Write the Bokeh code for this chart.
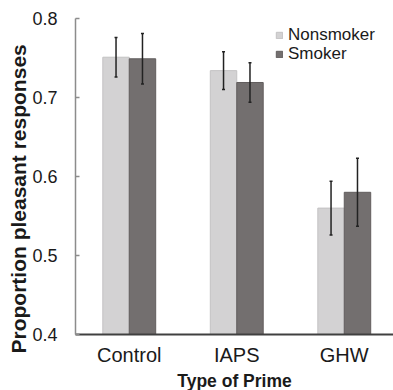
from bokeh.plotting import figure
from bokeh.models import (ColumnDataSource, FixedTicker, Range1d, Whisker, TeeHead,
                          Title, Legend)
from bokeh.transform import dodge
from bokeh.embed import file_html
from bokeh.resources import INLINE

categories = ["Control", "IAPS", "GHW"]
nonsmoker = [0.751, 0.734, 0.560]
nonsmoker_err = [0.025, 0.024, 0.034]
smoker = [0.749, 0.719, 0.580]
smoker_err = [0.032, 0.025, 0.043]
y_ticks = [0.4, 0.5, 0.6, 0.7, 0.8]

FONT = "Liberation Sans"
xs = [i + 0.5 for i in range(len(categories))]
src = ColumnDataSource(dict(
    x=xs,
    non=nonsmoker,
    non_lo=[v - e for v, e in zip(nonsmoker, nonsmoker_err)],
    non_hi=[v + e for v, e in zip(nonsmoker, nonsmoker_err)],
    smo=smoker,
    smo_lo=[v - e for v, e in zip(smoker, smoker_err)],
    smo_hi=[v + e for v, e in zip(smoker, smoker_err)],
))

p = figure(frame_width=318, frame_height=316,
           x_range=Range1d(0, 2.958), y_range=Range1d(0.4, 0.8),
           output_backend="svg", toolbar_location=None,
           min_border_left=75, min_border_right=0, min_border_top=18,
           min_border_bottom=56)
p.outline_line_color = None
p.grid.visible = False
p.background_fill_color = "white"
p.border_fill_color = "white"

W = 0.246
OFF = 0.123
r1 = p.vbar(x=dodge("x", -OFF, range=p.x_range), top="non", bottom=0.4, width=W,
            source=src, fill_color="#d3d2d3", line_color="#c3c2c3", line_width=1)
r2 = p.vbar(x=dodge("x", OFF, range=p.x_range), top="smo", bottom=0.4, width=W,
            source=src, fill_color="#736f6f", line_color="#625e5e", line_width=1)

for key, off in (("non", -OFF), ("smo", OFF)):
    w = Whisker(base=dodge("x", off, range=p.x_range), lower=f"{key}_lo", upper=f"{key}_hi",
                source=src, line_color="#222222", line_width=1.5, level="overlay",
                upper_head=TeeHead(size=3, line_color="#222222", line_width=1.5),
                lower_head=TeeHead(size=3, line_color="#222222", line_width=1.5))
    p.add_layout(w)

for label, rend, vy in (("Nonsmoker", r1, 289), ("Smoker", r2, 270)):
    lg = Legend(items=[(label, [rend])], location=(200, vy),
                glyph_width=8, glyph_height=8, label_standoff=5,
                padding=0, margin=0, label_height=18,
                label_text_font=FONT, label_text_font_size="17px",
                label_text_color="#1a1a1a",
                background_fill_alpha=0, border_line_alpha=0)
    p.add_layout(lg, "center")

# y axis
ya = p.yaxis[0]
ya.ticker = FixedTicker(ticks=y_ticks)
ya.axis_line_color = "#8c8c8c"
ya.axis_line_width = 1.5
ya.major_tick_line_color = "#8c8c8c"
ya.major_tick_line_width = 1.5
ya.major_tick_in = 4
ya.major_tick_out = 0
ya.minor_tick_line_color = None
ya.major_label_standoff = 18
ya.major_label_text_font = FONT
ya.major_label_text_font_size = "18px"
ya.major_label_text_color = "#1a1a1a"

# x axis
xa = p.xaxis[0]
xa.ticker = FixedTicker(ticks=xs)
xa.major_label_overrides = {x: c for x, c in zip(xs, categories)}
xa.axis_line_color = "#404040"
xa.axis_line_width = 2
xa.major_tick_line_color = None
xa.minor_tick_line_color = None
xa.major_tick_in = 0
xa.major_tick_out = 0
xa.major_label_standoff = 9
xa.major_label_text_font = FONT
xa.major_label_text_font_size = "20px"
xa.major_label_text_color = "#1a1a1a"
xa.axis_label = "Type of Prime"
xa.axis_label_standoff = 2
xa.axis_label_text_font = FONT
xa.axis_label_text_font_size = "17.5px"
xa.axis_label_text_font_style = "bold"
xa.axis_label_text_color = "#1a1a1a"

yt = Title(text="Proportion pleasant responses", align="left", offset=-19,
           standoff=0, text_font=FONT, text_font_size="21px",
           text_font_style="bold", text_color="#1a1a1a")
p.add_layout(yt, "left")

open("out.html", "w").write(file_html(p, INLINE))
